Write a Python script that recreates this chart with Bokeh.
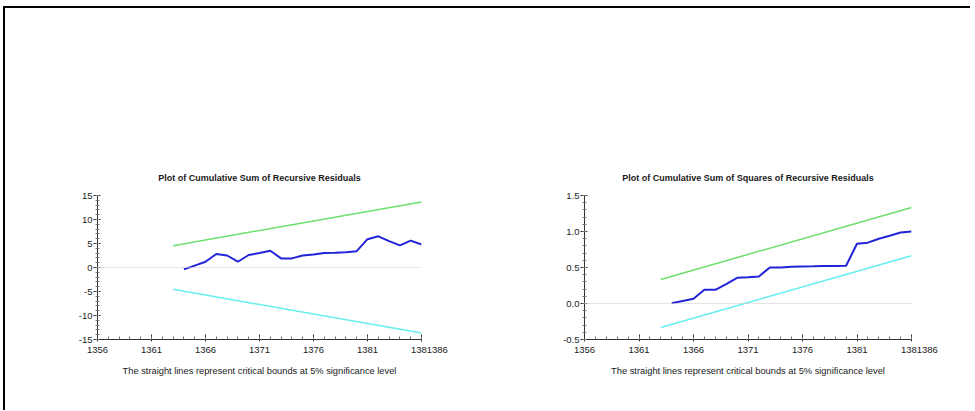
from bokeh.plotting import figure
from bokeh.layouts import row
from bokeh.models import FixedTicker, Span, CustomJSTickFormatter
from bokeh.embed import file_html
from bokeh.resources import INLINE

# ---------------- data ----------------
years = list(range(1364, 1387))
cusum = [-0.4, 0.4, 1.2, 2.8, 2.5, 1.2, 2.6, 3.0, 3.5, 1.9, 1.9, 2.5,
         2.7, 3.0, 3.05, 3.2, 3.4, 5.9, 6.5, 5.5, 4.6, 5.6, 4.8]
cusumsq = [0.005, 0.035, 0.065, 0.19, 0.19, 0.27, 0.357, 0.365, 0.376,
           0.50, 0.50, 0.51, 0.515, 0.517, 0.52, 0.522, 0.525, 0.83,
           0.845, 0.90, 0.94, 0.985, 1.0]
bound_years = [1363, 1386]
cusum_upper = [4.55, 13.64]
cusum_lower = [-4.55, -13.64]
sq_upper = [0.334, 1.333]
sq_lower = [-0.334, 0.664]

x_ticks = [1356, 1361, 1366, 1371, 1376, 1381, 1386]
x_minor = list(range(1356, 1387))
# the last tick label is printed twice, slightly overlapping, in the original
x_last_label = "\u00a0" * 6 + "1381386"
cusum_ticks = [-15, -10, -5, 0, 5, 10, 15]
cusum_minor = list(range(-15, 16))
sq_ticks = [-0.5, 0.0, 0.5, 1.0, 1.5]
sq_minor = [round(-0.5 + 0.1 * i, 1) for i in range(21)]

title1 = "Plot of Cumulative Sum of Recursive Residuals"
title2 = "Plot of Cumulative Sum of Squares of Recursive Residuals"
caption = "The straight lines represent critical bounds at 5% significance level"

FONT = "Liberation Sans"
TXT = "#1a1a1a"
AX = "#333333"
GREEN = "#6be06b"
CYAN = "#66eeee"
BLUE = "#2323d8"


def make(title, yr, yticks, yminor, series, upper, lower, fmt, w, mbl, mbr):
    p = figure(width=w, height=402, output_backend="svg", toolbar_location=None,
               x_range=(1356, 1386), y_range=yr,
               min_border_left=mbl, min_border_right=mbr,
               min_border_top=187, min_border_bottom=71)
    p.title.text = title
    p.title.align = "center"
    p.title.text_font = FONT
    p.title.text_font_size = "9px"
    p.title.text_font_style = "bold"
    p.title.text_color = TXT
    p.title.standoff = 26
    p.outline_line_color = None
    p.grid.visible = False
    p.background_fill_color = "white"
    p.border_fill_color = "white"

    xa = p.xaxis[0]
    xa.ticker = FixedTicker(ticks=x_ticks, minor_ticks=x_minor)
    xa.major_label_overrides = {x_ticks[-1]: x_last_label}
    xa.axis_label = caption
    xa.axis_label_text_font = FONT
    xa.axis_label_text_font_style = "normal"
    xa.axis_label_text_font_size = "9.3px"
    xa.axis_label_text_color = TXT
    xa.axis_label_standoff = 8
    xa.major_label_text_font = FONT
    xa.major_label_text_font_size = "9.5px"
    xa.major_label_text_color = TXT
    xa.major_label_standoff = 2
    xa.major_tick_in = 5
    xa.major_tick_out = 2
    xa.minor_tick_in = 3
    xa.minor_tick_out = 0
    xa.axis_line_color = AX
    xa.major_tick_line_color = AX
    xa.minor_tick_line_color = "#777777"

    ya = p.yaxis[0]
    ya.ticker = FixedTicker(ticks=yticks, minor_ticks=yminor)
    ya.formatter = CustomJSTickFormatter(code=fmt)
    ya.major_label_text_font = FONT
    ya.major_label_text_font_size = "9.5px"
    ya.major_label_text_color = TXT
    ya.major_label_standoff = 1
    ya.major_tick_in = 3
    ya.major_tick_out = 4
    ya.minor_tick_in = 2
    ya.minor_tick_out = 2
    ya.axis_line_color = AX
    ya.major_tick_line_color = AX
    ya.minor_tick_line_color = "#777777"

    p.add_layout(Span(location=0, dimension="width", line_color="#c8c8c8",
                      line_width=1, line_dash="1 1"))
    p.line(bound_years, upper, line_color=GREEN, line_width=1.5)
    p.line(bound_years, lower, line_color=CYAN, line_width=1.5)
    p.line(years, series, line_color=BLUE, line_width=2)
    return p


p1 = make(title1, (-15, 15), cusum_ticks, cusum_minor, cusum,
          cusum_upper, cusum_lower, "return tick.toFixed(0);", 480, 92, 64)
p2 = make(title2, (-0.5, 1.5), sq_ticks, sq_minor, cusumsq,
          sq_upper, sq_lower, "return tick.toFixed(1);", 485, 99, 59)

layout = row(p1, p2, styles={"margin-left": "3px", "margin-top": "6px",
                             "border-top": "2px solid black",
                             "border-left": "2px solid black"})

open("out.html", "w").write(file_html(layout, INLINE))
